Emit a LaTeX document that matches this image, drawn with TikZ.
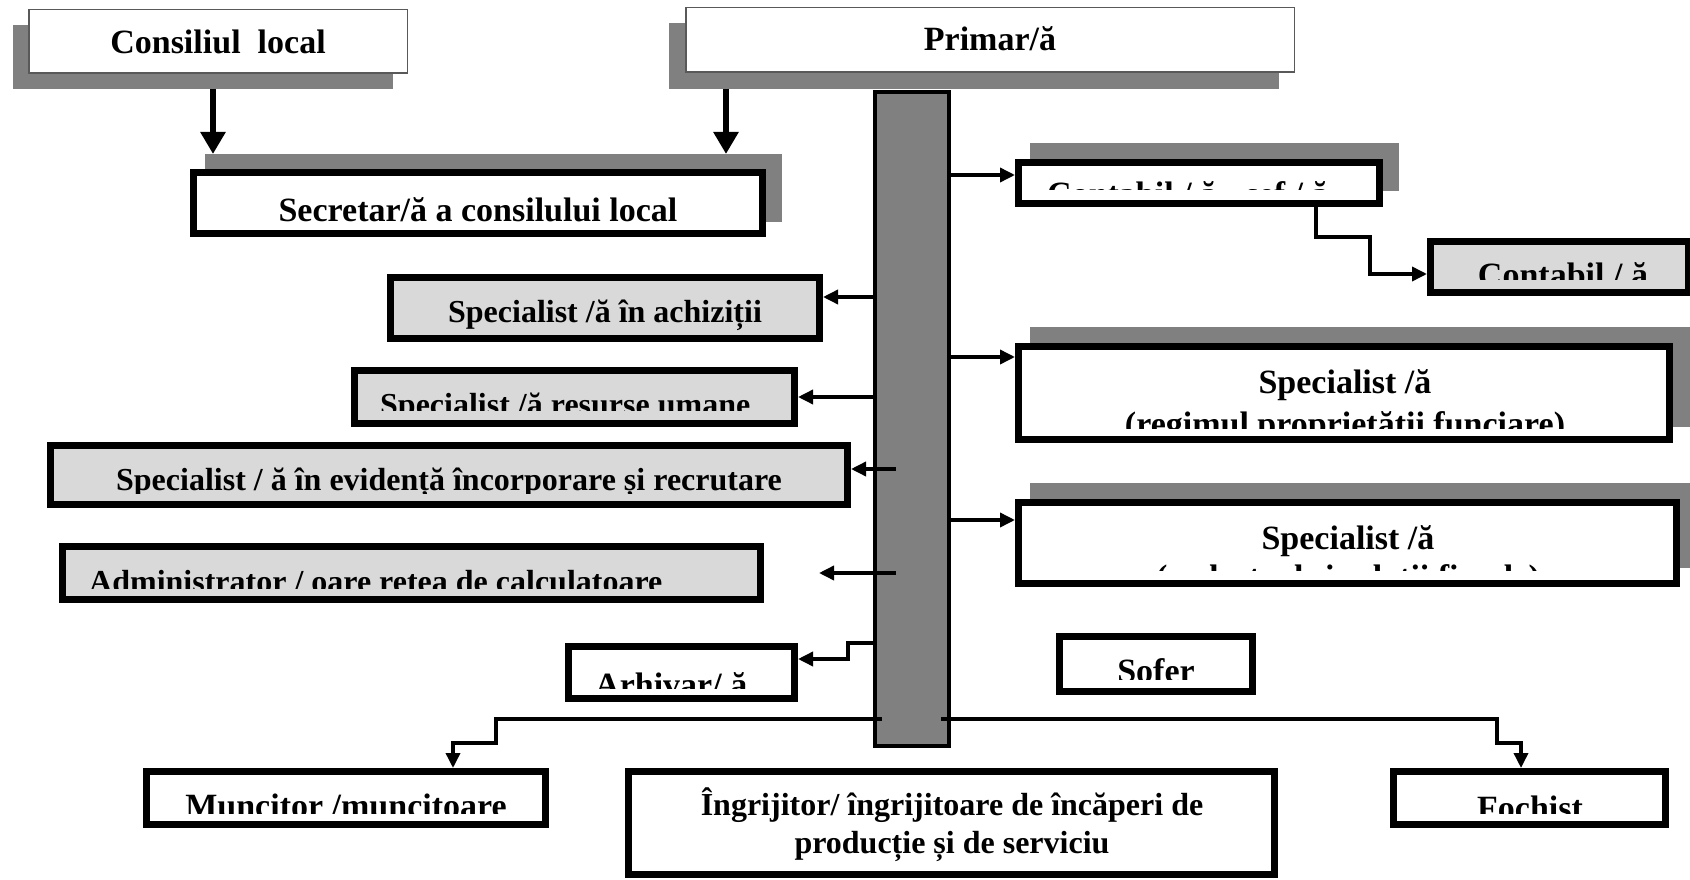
\documentclass[tikz,border=0pt]{standalone}
\usepackage{fontspec}
\setmainfont{Liberation Serif}
\usetikzlibrary{arrows.meta,calc}
\definecolor{shd}{HTML}{808080}
\definecolor{lgr}{HTML}{D9D9D9}
% name, line width, x1, y1, x2, y2 (outer edges, px), style
\newcommand\obox[7]{\node[#7, line width=#2pt, outer sep={#2pt/2}, minimum width={(#5)-(#3)-(#2)}, minimum height={(#6)-(#4)-(#2)}] (#1) at ({((#3)+(#5))/2},{((#4)+(#6))/2}) {};}
\tikzset{
  sh/.style={fill=shd, draw=none, inner sep=0pt},
  bx/.style={draw=black, fill=white, inner sep=0pt},
  gbx/.style={bx, fill=lgr},
  topbx/.style={draw=black!65, fill=white, inner sep=0pt},
  pil/.style={draw=black, fill=shd, inner sep=0pt},
  conn/.style={line width=3.5pt, -{Triangle[length=15pt,width=14pt]}},
  big/.style={line width=5.5pt, -{Triangle[length=22pt,width=24pt]}},
  t34/.style={font=\bfseries\fontsize{34}{39}\selectfont, inner sep=0pt, anchor=base},
  t32/.style={font=\bfseries\fontsize{32}{37}\selectfont, inner sep=0pt, anchor=base},
}
\begin{document}
\begin{tikzpicture}[x=1pt,y=-1pt]
\useasboundingbox (0,0) rectangle (1690,880);
% shadows and boxes
\obox{consS}{0}{13}{25}{393}{89}{sh}
\obox{cons}{1.5}{28}{9}{408}{74}{topbx}
\obox{primS}{0}{669}{23}{1279}{89}{sh}
\obox{prim}{1.5}{685}{7}{1295}{73}{topbx}
\obox{secS}{0}{205}{154}{782}{222}{sh}
\obox{sec}{7}{190}{169}{766}{237}{bx}
\obox{pillar}{4}{873}{90}{951}{748}{pil}
\obox{achiz}{7}{387}{274}{823}{342}{gbx}
\obox{res}{7}{351}{367}{798}{427}{gbx}
\obox{evid}{7}{47}{442}{851}{508}{gbx}
\obox{adm}{7}{59}{543}{764}{603}{gbx}
\obox{arh}{7}{565}{643}{798}{702}{bx}
\obox{cseS}{0}{1030}{143}{1399}{191}{sh}
\obox{cse}{7}{1015}{159}{1383}{207}{bx}
\obox{cont}{7}{1427}{238}{1692}{296}{gbx}
\obox{regS}{0}{1030}{327}{1700}{427}{sh}
\obox{reg}{7}{1015}{343}{1673}{443}{bx}
\obox{cadS}{0}{1030}{483}{1700}{568}{sh}
\obox{cad}{7}{1015}{499}{1680}{587}{bx}
\obox{sof}{7}{1056}{633}{1256}{695}{bx}
\obox{munc}{7}{143}{768}{549}{828}{bx}
\obox{ingr}{7}{625}{768}{1278}{878}{bx}
\obox{foc}{7}{1390}{768}{1669}{828}{bx}
% texts
\node[t34] (tcons) at (218,54) {Consiliul\ \ local};
\node[t34] (tprim) at (990,51) {Primar/ă};
\node[t34] (tsec) at (478,222) {Secretar/ă a consilului local};
\node[t32] (tach) at (605,322) {Specialist /ă în achiziții};
\begin{scope}\clip (358,374) rectangle (791,410);
\node[t32, anchor=base west] (tres) at (380,415) {Specialist /ă resurse umane};\end{scope}
\begin{scope}\clip (54,449) rectangle (844,493);
\node[t32] (tevid) at (449,490) {Specialist / ă în evidență încorporare și recrutare};\end{scope}
\begin{scope}\clip (66,550) rectangle (757,588);
\node[t32, anchor=base west] (tadm) at (89,592) {Administrator / oare rețea de calculatoare};\end{scope}
\begin{scope}\clip (572,650) rectangle (791,688);
\node[t34, anchor=base west] (tarh) at (595,696) {Arhivar/ ă};\end{scope}
\begin{scope}\clip (1022,166) rectangle (1376,189);
\node[t34, anchor=base west] (tcse) at (1047,205) {Contabil / ă - șef / ă};\end{scope}
\begin{scope}\clip (1434,245) rectangle (1685,279);
\node[t34] (tcont) at (1563,286) {Contabil / ă};\end{scope}
\node[t34] (treg1) at (1345,393) {Specialist /ă};
\begin{scope}\clip (1022,350) rectangle (1666,428);
\node[t34] (treg2) at (1345,435) {(regimul proprietății funciare)};\end{scope}
\node[t34] (tcad1) at (1348,549) {Specialist /ă};
\begin{scope}\clip (1022,506) rectangle (1673,570);
\node[t34] (tcad2) at (1348,588) {(cadastrul și relații fiscale)};\end{scope}
\begin{scope}\clip (1063,640) rectangle (1249,679);
\node[t34] (tsof) at (1156,682) {Sofer};\end{scope}
\begin{scope}\clip (150,775) rectangle (542,813);
\node[t34] (tmunc) at (346,817) {Muncitor /muncitoare};\end{scope}
\begin{scope}\clip (1397,775) rectangle (1662,813);
\node[t34] (tfoc) at (1530,819) {Fochist};\end{scope}
\node[t32] (ting1) at (952,815) {Îngrijitor/ îngrijitoare de încăperi de};
\node[t32] (ting2) at (952,853) {producție și de serviciu};
% connectors
\draw[big] (213,0 |- consS.south) -- (213,0 |- secS.north);
\draw[big] (726,0 |- primS.south) -- (726,0 |- secS.north);
\draw[conn] (pillar.west |- 0,297) -- (achiz.east |- 0,297);
\draw[conn] (pillar.west |- 0,397) -- (res.east |- 0,397);
\draw[conn] ($(pillar.west |- 0,469)+(23,0)$) -- (evid.east |- 0,469);
\draw[conn] ($(pillar.west |- 0,573)+(23,0)$) -- ($(adm.east |- 0,573)+(55,0)$);
\draw[conn] (pillar.west |- 0,643) -- (848,643) -- (848,659) -- (arh.east |- 0,659);
\draw[conn] (pillar.east |- 0,175) -- (cse.west |- 0,175);
\draw[conn] (pillar.east |- 0,357) -- (reg.west |- 0,357);
\draw[conn] (pillar.east |- 0,520) -- (cad.west |- 0,520);
\draw[conn] (1316,0 |- cse.south) -- (1316,237) -- (1370,237) -- (1370,274) -- (cont.west |- 0,274);
\draw[conn] ($(pillar.west |- 0,719)+(9,0)$) -- (496,719) -- (496,743) -- (453,743) -- (453,0 |- munc.north);
\draw[conn] ($(pillar.east |- 0,719)+(-10,0)$) -- (1497,719) -- (1497,743) -- (1521,743) -- (1521,0 |- foc.north);
\end{tikzpicture}
\end{document}
